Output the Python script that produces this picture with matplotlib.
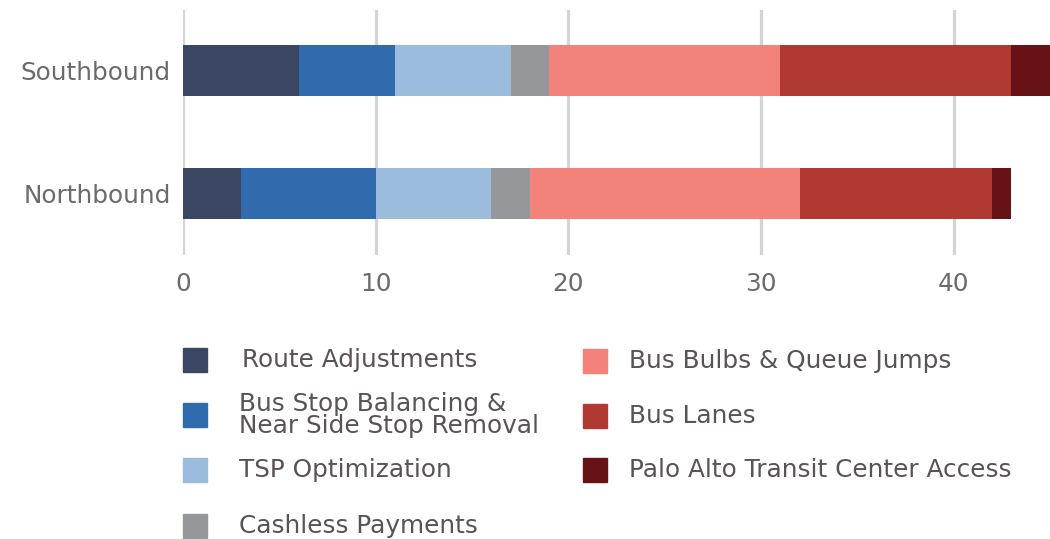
import numpy as np
import matplotlib.pyplot as plt
from matplotlib.patches import Rectangle

directions = ['Northbound', 'Southbound']
categories = ['Route Adjustments',
              'Bus Stop Balancing &\nNear Side Stop Removal',
              'TSP Optimization',
              'Cashless Payments',
              'Bus Bulbs & Queue Jumps',
              'Bus Lanes',
              'Palo Alto Transit Center Access']
# minutes saved per improvement, [Northbound, Southbound]
route_adj = [3, 6]
stop_balancing = [7, 5]
tsp = [6, 6]
cashless = [2, 2]
bus_bulbs = [14, 12]
bus_lanes = [10, 12]
palo_alto = [1, 2]
xticks = [0, 10, 20, 30, 40]

colors = ['#3b4762', '#2f6bad', '#9bbcdc', '#96979b',
          '#f2827a', '#b03a31', '#671315']
tick_color = '#6b6b6b'
text_color = '#5a5256'
fsize = 17.8

plt.rcParams['font.family'] = ['DejaVu Sans']

fig = plt.figure(figsize=(10.5, 5.39), dpi=100)
ax = fig.add_axes([183 / 1050, 1 - 255 / 539, 1 - 183 / 1050, 245 / 539])

series = [route_adj, stop_balancing, tsp, cashless,
          bus_bulbs, bus_lanes, palo_alto]
ypos = np.arange(len(directions))
left = np.zeros(len(directions))
for vals, c in zip(series, colors):
    ax.barh(ypos, vals, left=left, height=0.41, color=c, linewidth=0,
            zorder=3)
    left += np.array(vals)

ax.set_xlim(0, 45)
ax.set_ylim(-0.5, 1.49)
ax.set_xticks(xticks)
ax.set_yticks(ypos)
ax.set_yticklabels(directions)
for x in xticks:
    ax.axvline(x, color='#d4d4d6', linewidth=2.3, zorder=1)
for s in ax.spines.values():
    s.set_visible(False)
ax.tick_params(axis='x', length=0, pad=12, labelsize=fsize,
               labelcolor=tick_color)
ax.tick_params(axis='y', length=0, pad=9, labelsize=fsize,
               labelcolor=tick_color)

# legend laid out by hand in two columns, in pixel coords
lax = fig.add_axes([0, 0, 1, 1])
lax.set_xlim(0, 1050)
lax.set_ylim(539, 0)
lax.axis('off')

left_rows = [360, 415, 470, 526]
right_rows = [361, 416, 470]
slots = ([(183, 239, y) for y in left_rows] +
         [(583, 629, y) for y in right_rows])
for (sx, tx, y), name, c in zip(slots, categories, colors):
    lax.add_patch(Rectangle((sx, y - 12), 24, 24, color=c))
    if name == 'Route Adjustments':
        tx += 3
    lax.text(tx, y, name, fontsize=fsize, color=text_color, va='center',
             ha='left', linespacing=0.92)

fig.savefig('out.png', dpi=100)
